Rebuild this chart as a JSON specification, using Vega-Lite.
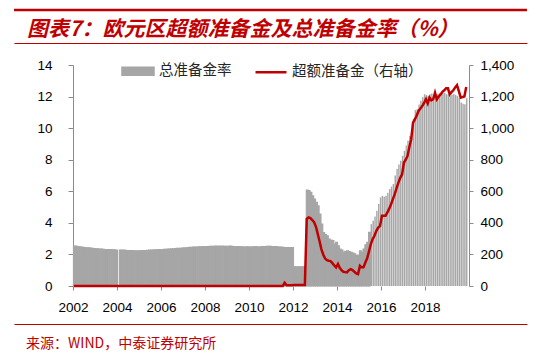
{
"$schema": "https://vega.github.io/schema/vega-lite/v6.json",
"padding": {"left": 12, "top": 8, "right": 0, "bottom": 0},
"spacing": 0,
"bounds": "flush",
"config": {"view": {"stroke": null}, "font": "Liberation Sans", "bar": {"binSpacing": 0},
  "axis": {"labelFont": "Liberation Sans", "labelFontSize": 13.5, "labelColor": "#000000", "domainColor": "#8c8c8c", "tickColor": "#8c8c8c", "grid": false}},
"vconcat": [
{
  "width": 513, "height": 33,
  "view": {"stroke": "#c00000", "strokeWidth": 2.4, "strokeDash": [513, 3000]},
  "data": {"values": [{"t": "图表7：欧元区超额准备金及总准备金率（%）"}]},
  "mark": {"type": "text", "align": "left", "baseline": "middle", "font": "Noto Sans CJK SC", "fontSize": 21, "fontStyle": "italic", "fontWeight": "bold", "color": "#c00000"},
  "encoding": {
    "text": {"field": "t"},
    "x": {"datum": 13, "type": "quantitative", "scale": {"domain": [0, 513], "nice": false, "zero": false}, "axis": null},
    "y": {"datum": 19.5, "type": "quantitative", "scale": {"domain": [33, 0], "nice": false, "zero": false}, "axis": null}
  }
},
{
  "width": 513, "height": 21.5,
  "view": {"stroke": "#c00000", "strokeWidth": 1, "strokeDash": [513, 3000]},
  "data": {"values": [{}]},
  "mark": {"type": "text"},
  "encoding": {"text": {"value": ""}}
},
{
  "width": 455, "height": 221,
  "data": {"values": [
{"d":"2002-01","r":2.53,"e":0},{"d":"2002-02","r":2.52,"e":0},{"d":"2002-03","r":2.50,"e":0},{"d":"2002-04","r":2.48,"e":0},{"d":"2002-05","r":2.46,"e":0},{"d":"2002-06","r":2.45,"e":0},{"d":"2002-07","r":2.44,"e":0},{"d":"2002-08","r":2.42,"e":0},{"d":"2002-09","r":2.41,"e":0},{"d":"2002-10","r":2.40,"e":0},{"d":"2002-11","r":2.38,"e":0},{"d":"2002-12","r":2.37,"e":0},
{"d":"2003-01","r":2.36,"e":0},{"d":"2003-02","r":2.35,"e":0},{"d":"2003-03","r":2.34,"e":0},{"d":"2003-04","r":2.33,"e":0},{"d":"2003-05","r":2.32,"e":0},{"d":"2003-06","r":2.31,"e":0},{"d":"2003-07","r":2.31,"e":0},{"d":"2003-08","r":2.30,"e":0},{"d":"2003-09","r":2.30,"e":0},{"d":"2003-10","r":2.29,"e":0},{"d":"2003-11","r":2.29,"e":0},{"d":"2003-12","r":2.28,"e":0},
{"d":"2004-01","r":null,"e":0},{"d":"2004-02","r":2.28,"e":0},{"d":"2004-03","r":2.27,"e":0},{"d":"2004-04","r":2.27,"e":0},{"d":"2004-05","r":2.26,"e":0},{"d":"2004-06","r":2.25,"e":0},{"d":"2004-07","r":2.25,"e":0},{"d":"2004-08","r":2.24,"e":0},{"d":"2004-09","r":2.24,"e":0},{"d":"2004-10","r":2.23,"e":0},{"d":"2004-11","r":2.23,"e":0},{"d":"2004-12","r":2.23,"e":0},
{"d":"2005-01","r":2.23,"e":0},{"d":"2005-02","r":2.24,"e":0},{"d":"2005-03","r":2.24,"e":0},{"d":"2005-04","r":2.25,"e":0},{"d":"2005-05","r":2.26,"e":0},{"d":"2005-06","r":2.27,"e":0},{"d":"2005-07","r":2.27,"e":0},{"d":"2005-08","r":2.28,"e":0},{"d":"2005-09","r":2.29,"e":0},{"d":"2005-10","r":2.29,"e":0},{"d":"2005-11","r":2.30,"e":0},{"d":"2005-12","r":2.30,"e":0},
{"d":"2006-01","r":2.31,"e":0},{"d":"2006-02","r":2.32,"e":0},{"d":"2006-03","r":2.32,"e":0},{"d":"2006-04","r":2.33,"e":0},{"d":"2006-05","r":2.34,"e":0},{"d":"2006-06","r":2.35,"e":0},{"d":"2006-07","r":2.36,"e":0},{"d":"2006-08","r":2.37,"e":0},{"d":"2006-09","r":2.38,"e":0},{"d":"2006-10","r":2.38,"e":0},{"d":"2006-11","r":2.39,"e":0},{"d":"2006-12","r":2.40,"e":0},
{"d":"2007-01","r":2.41,"e":0},{"d":"2007-02","r":2.42,"e":0},{"d":"2007-03","r":2.44,"e":0},{"d":"2007-04","r":2.45,"e":0},{"d":"2007-05","r":2.45,"e":0},{"d":"2007-06","r":2.46,"e":0},{"d":"2007-07","r":2.47,"e":0},{"d":"2007-08","r":2.47,"e":0},{"d":"2007-09","r":2.48,"e":0},{"d":"2007-10","r":2.48,"e":0},{"d":"2007-11","r":2.49,"e":0},{"d":"2007-12","r":2.50,"e":0},
{"d":"2008-01","r":2.50,"e":0},{"d":"2008-02","r":2.50,"e":0},{"d":"2008-03","r":2.51,"e":0},{"d":"2008-04","r":2.51,"e":0},{"d":"2008-05","r":2.51,"e":0},{"d":"2008-06","r":2.52,"e":0},{"d":"2008-07","r":2.51,"e":0},{"d":"2008-08","r":2.52,"e":0},{"d":"2008-09","r":2.51,"e":0},{"d":"2008-10","r":2.52,"e":0},{"d":"2008-11","r":2.51,"e":0},{"d":"2008-12","r":2.51,"e":0},
{"d":"2009-01","r":2.51,"e":0},{"d":"2009-02","r":2.52,"e":0},{"d":"2009-03","r":2.51,"e":0},{"d":"2009-04","r":2.50,"e":0},{"d":"2009-05","r":2.50,"e":0},{"d":"2009-06","r":2.49,"e":0},{"d":"2009-07","r":2.49,"e":0},{"d":"2009-08","r":2.48,"e":0},{"d":"2009-09","r":2.48,"e":0},{"d":"2009-10","r":2.47,"e":0},{"d":"2009-11","r":2.48,"e":0},{"d":"2009-12","r":2.48,"e":0},
{"d":"2010-01","r":2.47,"e":0},{"d":"2010-02","r":2.48,"e":0},{"d":"2010-03","r":2.48,"e":0},{"d":"2010-04","r":2.49,"e":0},{"d":"2010-05","r":2.48,"e":0},{"d":"2010-06","r":2.47,"e":0},{"d":"2010-07","r":2.49,"e":0},{"d":"2010-08","r":2.50,"e":0},{"d":"2010-09","r":2.50,"e":0},{"d":"2010-10","r":2.51,"e":0},{"d":"2010-11","r":2.51,"e":0},{"d":"2010-12","r":2.51,"e":0},
{"d":"2011-01","r":2.50,"e":0},{"d":"2011-02","r":2.50,"e":0},{"d":"2011-03","r":2.49,"e":0},{"d":"2011-04","r":2.48,"e":0},{"d":"2011-05","r":2.47,"e":0},{"d":"2011-06","r":2.46,"e":0},{"d":"2011-07","r":2.45,"e":0},{"d":"2011-08","r":2.44,"e":20},{"d":"2011-09","r":2.44,"e":5},{"d":"2011-10","r":2.43,"e":4},{"d":"2011-11","r":2.43,"e":4},{"d":"2011-12","r":2.43,"e":5},
{"d":"2012-01","r":1.22,"e":6},{"d":"2012-02","r":1.22,"e":6},{"d":"2012-03","r":1.22,"e":6},{"d":"2012-04","r":1.22,"e":6},{"d":"2012-05","r":1.22,"e":6},{"d":"2012-06","r":1.22,"e":6},{"d":"2012-07","r":1.22,"e":6},{"d":"2012-08","r":6.07,"e":425},{"d":"2012-09","r":6.05,"e":434},{"d":"2012-10","r":5.93,"e":430},{"d":"2012-11","r":5.71,"e":418},{"d":"2012-12","r":5.5,"e":405},
{"d":"2013-01","r":5.3,"e":375},{"d":"2013-02","r":5.08,"e":330},{"d":"2013-03","r":4.56,"e":285},{"d":"2013-04","r":3.92,"e":234},{"d":"2013-05","r":3.39,"e":200},{"d":"2013-06","r":3.25,"e":175},{"d":"2013-07","r":3.18,"e":164},{"d":"2013-08","r":2.97,"e":160},{"d":"2013-09","r":2.9,"e":158},{"d":"2013-10","r":2.87,"e":145},{"d":"2013-11","r":2.66,"e":130},{"d":"2013-12","r":2.76,"e":118},
{"d":"2014-01","r":2.55,"e":139},{"d":"2014-02","r":2.34,"e":115},{"d":"2014-03","r":2.28,"e":100},{"d":"2014-04","r":2.13,"e":90},{"d":"2014-05","r":2.19,"e":88},{"d":"2014-06","r":2.23,"e":86},{"d":"2014-07","r":2.18,"e":100},{"d":"2014-08","r":2.13,"e":107},{"d":"2014-09","r":2.08,"e":101},{"d":"2014-10","r":2.03,"e":90},{"d":"2014-11","r":1.92,"e":80},{"d":"2014-12","r":1.95,"e":76},
{"d":"2015-01","r":2.23,"e":128},{"d":"2015-02","r":2.13,"e":118},{"d":"2015-03","r":2.34,"e":118},{"d":"2015-04","r":2.6,"e":149},{"d":"2015-05","r":2.76,"e":175},{"d":"2015-06","r":3.4,"e":220},{"d":"2015-07","r":3.92,"e":265},{"d":"2015-08","r":4.13,"e":297},{"d":"2015-09","r":4.4,"e":320},{"d":"2015-10","r":4.77,"e":350},{"d":"2015-11","r":5.2,"e":370},{"d":"2015-12","r":5.61,"e":381},
{"d":"2016-01","r":5.71,"e":445},{"d":"2016-02","r":5.65,"e":445},{"d":"2016-03","r":5.71,"e":445},{"d":"2016-04","r":5.9,"e":466},{"d":"2016-05","r":6.14,"e":490},{"d":"2016-06","r":6.3,"e":518},{"d":"2016-07","r":6.46,"e":550},{"d":"2016-08","r":7.0,"e":582},{"d":"2016-09","r":7.41,"e":620},{"d":"2016-10","r":7.7,"e":655},{"d":"2016-11","r":7.93,"e":685},{"d":"2016-12","r":8.25,"e":708},
{"d":"2017-01","r":8.56,"e":782},{"d":"2017-02","r":8.9,"e":800},{"d":"2017-03","r":9.2,"e":824},{"d":"2017-04","r":9.5,"e":880},{"d":"2017-05","r":9.72,"e":930},{"d":"2017-06","r":10.6,"e":1035},{"d":"2017-07","r":11.14,"e":1056},{"d":"2017-08","r":11.2,"e":1080},{"d":"2017-09","r":11.5,"e":1109},{"d":"2017-10","r":11.73,"e":1125},{"d":"2017-11","r":11.95,"e":1140},{"d":"2017-12","r":12.15,"e":1160},
{"d":"2018-01","r":12.1,"e":1183},{"d":"2018-02","r":12.04,"e":1157},{"d":"2018-03","r":12.15,"e":1193},{"d":"2018-04","r":12.2,"e":1176},{"d":"2018-05","r":11.9,"e":1183},{"d":"2018-06","r":12.1,"e":1225},{"d":"2018-07","r":12.15,"e":1183},{"d":"2018-08","r":12.2,"e":1200},{"d":"2018-09","r":12.2,"e":1214},{"d":"2018-10","r":12.25,"e":1230},{"d":"2018-11","r":12.25,"e":1240},{"d":"2018-12","r":12.15,"e":1252},
{"d":"2019-01","r":12.15,"e":1252},{"d":"2019-02","r":12.04,"e":1214},{"d":"2019-03","r":12.1,"e":1228},{"d":"2019-04","r":12.17,"e":1240},{"d":"2019-05","r":12.1,"e":1258},{"d":"2019-06","r":12.04,"e":1273},{"d":"2019-07","r":11.9,"e":1235},{"d":"2019-08","r":11.62,"e":1193},{"d":"2019-09","r":11.55,"e":1197},{"d":"2019-10","r":11.52,"e":1200},{"d":"2019-11","r":11.9,"e":1260}
  ]},
  "layer": [
    {
      "encoding": {
        "x": {"field": "d", "timeUnit": "utcyearmonth", "type": "temporal",
          "scale": {"type": "utc", "domain": [{"year": 1999, "month": 4, "date": 28, "utc": true}, {"year": 2020, "month": 1, "date": 1, "utc": true}]},
          "axis": {"title": null, "domain": false, "tickSize": 4, "labelPadding": 10, "format": "%Y", "formatType": "utc", "labelExpr": "utcFormat(datum.value, '%Y')", "labelOverlap": false,
            "values": [{"year": 2002, "utc": true}, {"year": 2004, "utc": true}, {"year": 2006, "utc": true}, {"year": 2008, "utc": true}, {"year": 2010, "utc": true}, {"year": 2012, "utc": true}, {"year": 2014, "utc": true}, {"year": 2016, "utc": true}, {"year": 2018, "utc": true}]}},
        "y": {"field": "r", "type": "quantitative", "scale": {"domain": [0, 14], "nice": false},
          "axis": {"title": null, "orient": "left", "offset": -59, "values": [0, 2, 4, 6, 8, 10, 12, 14], "format": ".0f", "tickSize": 5, "labelPadding": 16}},
        "color": {"datum": "总准备金率", "type": "nominal",
          "scale": {"domain": ["总准备金率", "超额准备金（右轴）"], "range": ["#a6a6a6", "#c00000"]},
          "legend": {"orient": "none", "legendX": 107, "legendY": 44, "direction": "horizontal", "title": null,
            "symbolSize": 961, "symbolStrokeWidth": 2.5, "labelFont": "Noto Sans CJK SC", "labelFontSize": 14.5, "labelColor": "#262626",
            "labelOffset": 4, "columnPadding": 18,
            "encode": {"symbols": {"update": {
              "shape": {"signal": "datum.value === '总准备金率' ? 'M-1,-0.23H1V0.23H-1Z' : 'stroke'"},
              "fill": {"signal": "datum.value === '总准备金率' ? '#a6a6a6' : 'transparent'"},
              "stroke": {"signal": "datum.value === '总准备金率' ? 'transparent' : '#c00000'"},
              "strokeWidth": {"value": 2.5},
              "opacity": {"value": 1}, "fillOpacity": {"value": 1}, "strokeOpacity": {"value": 1}}}}}}
      },
      "layer": [
        {"transform": [{"filter": "utcyear(datum.d) * 12 + utcmonth(datum.d) < 2015 * 12 + 6"}],
         "mark": {"type": "bar", "binSpacing": 0, "stroke": "#a6a6a6", "strokeWidth": 1.2}},
        {"transform": [{"filter": "utcyear(datum.d) * 12 + utcmonth(datum.d) >= 2015 * 12 + 6"}],
         "mark": {"type": "bar", "binSpacing": 0.4}}
      ]
    },
    {
      "mark": {"type": "line", "strokeWidth": 2.5},
      "encoding": {
        "x": {"field": "d", "timeUnit": "utcyearmonth", "type": "temporal", "bandPosition": 0.5,
          "axis": {"title": null, "domain": false, "tickSize": 4, "labelPadding": 10, "format": "%Y", "formatType": "utc", "labelExpr": "utcFormat(datum.value, '%Y')", "labelOverlap": false,
            "values": [{"year": 2002, "utc": true}, {"year": 2004, "utc": true}, {"year": 2006, "utc": true}, {"year": 2008, "utc": true}, {"year": 2010, "utc": true}, {"year": 2012, "utc": true}, {"year": 2014, "utc": true}, {"year": 2016, "utc": true}, {"year": 2018, "utc": true}]}},
        "y": {"field": "e", "type": "quantitative", "scale": {"domain": [0, 1400], "nice": false},
          "axis": {"title": null, "orient": "right", "values": [0, 200, 400, 600, 800, 1000, 1200, 1400], "format": ",.0f", "tickSize": 4, "labelPadding": 7}},
        "color": {"datum": "超额准备金（右轴）", "type": "nominal"}
      }
    }
  ],
  "resolve": {"scale": {"y": "independent"}}
},
{
  "width": 513, "height": 38,
  "data": {"values": [{}]},
  "mark": {"type": "text"},
  "encoding": {"text": {"value": ""}}
},
{
  "width": 513, "height": 30,
  "view": {"stroke": "#c00000", "strokeWidth": 1, "strokeDash": [513, 3000]},
  "data": {"values": [{"t": "来源：WIND，中泰证券研究所"}]},
  "mark": {"type": "text", "align": "left", "baseline": "middle", "font": "Noto Sans CJK SC", "fontSize": 14, "color": "#c00000"},
  "encoding": {
    "text": {"field": "t"},
    "x": {"datum": 12, "type": "quantitative", "scale": {"domain": [0, 513], "nice": false, "zero": false}, "axis": null},
    "y": {"datum": 19.5, "type": "quantitative", "scale": {"domain": [30, 0], "nice": false, "zero": false}, "axis": null}
  }
}
]
}
